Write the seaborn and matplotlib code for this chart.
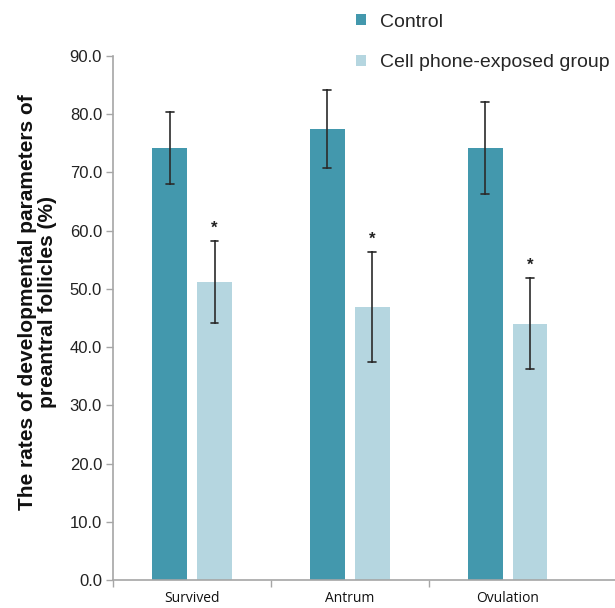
import numpy as np
import pandas as pd
import matplotlib
matplotlib.use("Agg")
import matplotlib.pyplot as plt
import seaborn as sns

categories = ["Survived", "Antrum", "Ovulation"]
groups = ["Control", "Cell phone-exposed group"]
control_mean = [74.2, 77.5, 74.2]
control_err = [6.2, 6.7, 7.9]
exposed_mean = [51.2, 46.9, 44.0]
exposed_err = [7.0, 9.4, 7.8]
significant = [True, True, True]
yticks = [0, 10, 20, 30, 40, 50, 60, 70, 80, 90]

rows = []
for g, means, errs in [(groups[0], control_mean, control_err),
                       (groups[1], exposed_mean, exposed_err)]:
    for c, m, e in zip(categories, means, errs):
        rows.append(dict(category=c, group=g, value=m - e))
        rows.append(dict(category=c, group=g, value=m + e))
df = pd.DataFrame(rows)

sns.set_theme(style="white")
plt.rcParams['font.family'] = ['Liberation Sans', 'DejaVu Sans']

fig = plt.figure(figsize=(6.15, 6.08), dpi=100)
ax = fig.add_axes([0.184, 0.046, 0.816, 0.862])

sns.barplot(data=df, x="category", y="value", hue="group",
            order=categories, hue_order=groups,
            palette=["#4398AD", "#B5D6E0"], saturation=1,
            width=0.57, gap=0.23, linewidth=0,
            errorbar=lambda v: (v.min(), v.max()),
            err_kws={"color": "#2b2b2b", "linewidth": 1.2},
            capsize=0.1, ax=ax)

# significance asterisks above exposed error bars
offset = 0.5 * 0.57 / 2
for i, (m, e, s) in enumerate(zip(exposed_mean, exposed_err, significant)):
    if s:
        ax.text(i + offset, m + e + 1.0, "*", ha="center", va="bottom",
                fontsize=12, fontweight="bold", color="#222222")

ax.set_ylim(0, 90)
ax.set_xlim(-0.5, 2.68)
ax.set_yticks(yticks)
ax.set_yticklabels([f"{v:.1f}" for v in yticks], fontsize=12, color="#222222")
ax.set_xticks(range(len(categories)))
ax.set_xticklabels(categories, fontsize=10, family=["Open Sans", "DejaVu Sans"], color="#111111")
ax.set_xticks([-0.5, 0.5, 1.5], minor=True)
ax.tick_params(axis="x", which="major", length=0, pad=8)
ax.tick_params(axis="x", which="minor", length=5, width=1, color="#A6A6A6", direction="out", bottom=True)
ax.tick_params(axis="y", length=5, width=1, color="#A6A6A6", direction="out", left=True, pad=3)
ax.set_xlabel("")
ax.set_ylabel("The rates of developmental parameters of\npreantral follicles (%)",
              fontsize=15, fontweight="bold", color="#111111", linespacing=1.05)
ax.yaxis.set_label_coords(-0.112, 0.53)

for sp in ["top", "right"]:
    ax.spines[sp].set_visible(False)
for sp in ["left", "bottom"]:
    ax.spines[sp].set_color("#A6A6A6")
    ax.spines[sp].set_linewidth(1.2)

handles, labels = ax.get_legend_handles_labels()
ax.get_legend().remove()
fig.legend(handles, labels, loc="upper left", bbox_to_anchor=(0.567, 0.990),
           frameon=False, fontsize=14, handlelength=0.5, handleheight=0.5,
           handletextpad=0.7, labelspacing=1.2, borderaxespad=0)

fig.savefig("out.png", dpi=100)
